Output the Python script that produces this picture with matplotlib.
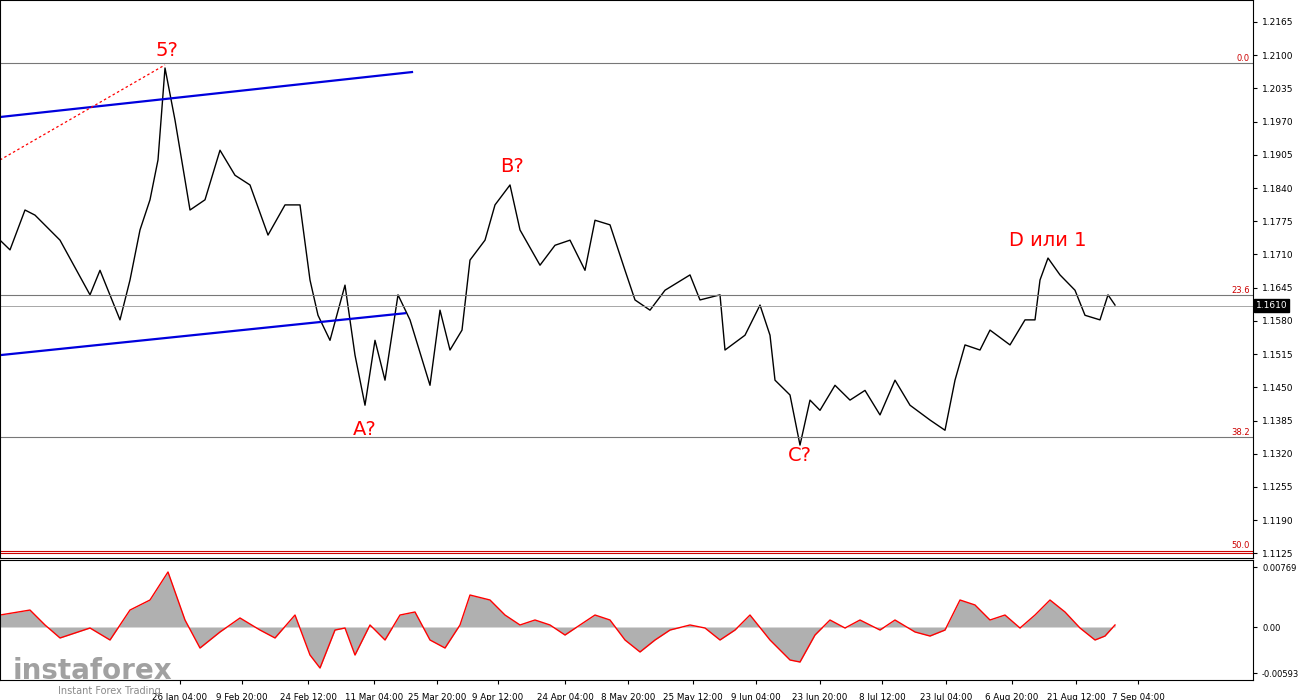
import matplotlib
matplotlib.use("Agg")
import matplotlib.pyplot as plt

px = [0,10,25,35,60,90,100,120,130,140,150,158,165,175,185,190,205,220,235,250,268,285,300,310,318,330,345,355,365,375,385,398,410,430,440,450,462,470,485,495,510,520,540,555,570,585,595,610,625,635,650,665,690,700,720,725,745,760,770,775,790,800,810,820,835,850,865,880,895,910,930,945,955,965,980,990,1010,1025,1035,1040,1048,1060,1075,1085,1095,1100,1108,1115]
price = [1.1738,1.1719,1.1797,1.1787,1.1738,1.1631,1.1679,1.1582,1.1660,1.1758,1.1817,1.1895,1.2075,1.1973,1.1856,1.1797,1.1817,1.1914,1.1865,1.1846,1.1748,1.1807,1.1807,1.1660,1.1591,1.1542,1.1650,1.1513,1.1415,1.1542,1.1464,1.1631,1.1582,1.1454,1.1601,1.1523,1.1562,1.1699,1.1738,1.1807,1.1846,1.1758,1.1689,1.1728,1.1738,1.1679,1.1777,1.1768,1.1679,1.1621,1.1601,1.1640,1.1670,1.1621,1.1631,1.1523,1.1552,1.1611,1.1552,1.1464,1.1435,1.1337,1.1425,1.1405,1.1454,1.1425,1.1444,1.1396,1.1464,1.1415,1.1386,1.1366,1.1464,1.1533,1.1523,1.1562,1.1533,1.1582,1.1582,1.1660,1.1703,1.1670,1.1640,1.1591,1.1585,1.1582,1.1631,1.1611]

ox = [0,30,45,60,90,110,130,150,168,185,200,220,240,260,275,295,310,320,335,345,355,370,385,400,415,430,445,460,470,490,505,520,535,550,565,580,595,610,625,640,655,670,690,705,720,735,750,770,790,800,815,830,845,860,880,895,915,930,945,960,975,990,1005,1020,1035,1050,1065,1080,1095,1105,1115]
osc = [15.4,21.8,2.6,-14.1,-1.3,-16.7,21.8,34.7,70.7,9.0,-27.0,-6.4,11.6,-3.9,-14.1,15.4,-36.0,-52.7,-3.9,-1.3,-36.0,2.6,-16.7,15.4,19.3,-16.7,-27.0,2.6,41.1,34.7,15.4,2.6,9.0,2.6,-10.3,2.6,15.4,9.0,-16.7,-32.1,-16.7,-3.9,2.6,-1.3,-16.7,-3.9,15.4,-16.7,-42.4,-45.0,-10.3,9.0,-1.3,9.0,-3.9,9.0,-6.4,-11.6,-3.9,34.7,28.3,9.0,15.4,-1.3,15.4,34.7,19.3,-1.3,-16.7,-11.6,2.6]
osc = [v*1e-4 for v in osc]

yticks = [1.2165,1.2100,1.2035,1.1970,1.1905,1.1840,1.1775,1.1710,1.1645,1.1580,1.1515,1.1450,1.1385,1.1320,1.1255,1.1190,1.1125]
xlabels = ["26 Jan 04:00","9 Feb 20:00","24 Feb 12:00","11 Mar 04:00","25 Mar 20:00","9 Apr 12:00","24 Apr 04:00","8 May 20:00","25 May 12:00","9 Jun 04:00","23 Jun 20:00","8 Jul 12:00","23 Jul 04:00","6 Aug 20:00","21 Aug 12:00","7 Sep 04:00"]
xlabpos = [180,242,308,374,437,498,565,628,693,756,820,882,946,1012,1076,1138]
fib = [("0.0",1.2085),("23.6",1.1631),("38.2",1.1352)]
fib50 = 1.1129
cur = 1.1610
waves = [("5?",167,1.2110),("B?",512,1.1882),("A?",365,1.1367),("C?",800,1.1316),("D или 1",1048,1.1737)]

fig = plt.figure(figsize=(13,7), dpi=100)
W = 1253/1300
ax = fig.add_axes([0, 1-558/700, W, 558/700])
ax2 = fig.add_axes([0, 20/700, W, 120/700])
for a in (ax, ax2):
    a.set_xlim(0,1253)
    a.yaxis.tick_right()
    a.tick_params(labelsize=6.5, length=3, direction='out')
    for s in a.spines.values(): s.set_color('black'); s.set_linewidth(0.8)
ax.set_ylim(1.1116,1.2208)
ax.set_yticks(yticks)
ax.set_yticklabels([f"{v:.4f}" for v in yticks])
ax.set_xticks([])
ax.plot(px, price, color='black', lw=1)
for name,v in fib:
    ax.axhline(v, color='#777777', lw=0.8)
    ax.text(1250, v, name, fontsize=6, color='#cc0000', ha='right', va='bottom')
ax.axhline(fib50, color='#cc0000', lw=0.8)
ax.axhline(fib50-0.0004, color='#cc0000', lw=0.8)
ax.text(1250, fib50+0.0003, "50.0", fontsize=6, color='#cc0000', ha='right', va='bottom')
ax.axhline(cur, color='#999999', lw=0.6)
ax.text(1256, cur, "1.1610", fontsize=6.5, color='white', va='center', clip_on=False,
        bbox=dict(boxstyle='square,pad=0.2', fc='black', ec='black'))
ax.plot([0,412],[1.1979,1.2067], color='#0000dd', lw=1.6)
ax.plot([0,405],[1.1513,1.1595], color='#0000dd', lw=1.6)
ax.plot([0,165],[1.1895,1.2081], color='red', lw=0.9, ls=(0,(2,2)))
for t,x,y in waves:
    ax.text(x, y, t, color='red', fontsize=14, ha='center', va='center')

ax2.set_ylim(-0.00681,0.00861)
ax2.set_yticks([0.00769,0.0,-0.00593])
ax2.set_yticklabels(["0.00769","0.00","-0.00593"], fontsize=6)
ax2.fill_between(ox, 0, osc, color='#b0b0b0', lw=0)
ax2.plot(ox, osc, color='red', lw=1)
ax2.set_xticks(xlabpos)
ax2.set_xticklabels(xlabels, fontsize=6.3)
ax2.tick_params(axis='x', pad=6)
fig.text(0.01, 0.03, "instaforex", fontsize=20, color='#8a8a8a', alpha=0.8, fontweight='bold')
fig.text(0.045, 0.008, "Instant Forex Trading", fontsize=7, color='#8a8a8a')
fig.savefig("out.png", dpi=100)
